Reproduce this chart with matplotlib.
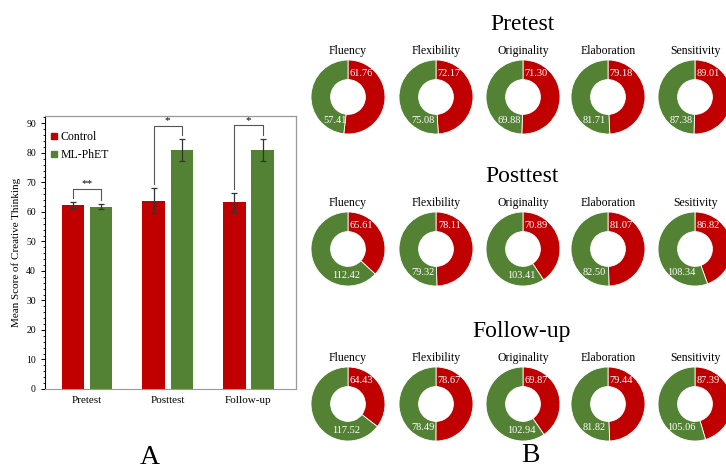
import numpy as np
import matplotlib.pyplot as plt
from matplotlib.lines import Line2D
from matplotlib.ticker import MultipleLocator

plt.rcParams['font.family'] = ['Liberation Serif', 'DejaVu Serif']

# Panel A data
phases = ['Pretest', 'Posttest', 'Follow-up']
control_mean = [62.3, 63.8, 63.3]
control_err = [1.0, 4.3, 3.2]
phet_mean = [61.8, 81.0, 81.0]
phet_err = [0.8, 3.6, 3.7]
stars = ['**', '*', '*']

# Panel B data (red = first value, green = second value)
skills = ['Fluency', 'Flexibility', 'Originality', 'Elaboration', 'Sensitivity']
skills_post = ['Fluency', 'Flexibility', 'Originality', 'Elaboration', 'Sesitivity']
pre_red = [61.76, 72.17, 71.30, 79.18, 89.01]
pre_green = [57.41, 75.08, 69.88, 81.71, 87.38]
post_red = [65.61, 78.11, 70.89, 81.07, 86.82]
post_green = [112.42, 79.32, 103.41, 82.50, 108.34]
fol_red = [64.43, 78.67, 69.87, 79.44, 87.39]
fol_green = [117.52, 78.49, 102.94, 81.82, 105.06]

RED = '#C00000'
GREEN = '#548235'

W, H = 726, 471
fig = plt.figure(figsize=(W / 100, H / 100), dpi=100)


def fx(px):
    return px / W


def fy(py):
    return 1 - py / H


# ---------- Panel A: bars ----------
ax = fig.add_axes([fx(45), fy(389), fx(296 - 45), (389 - 116) / H])
x = np.arange(len(phases))
bw = 0.28
off = 0.175
ekw = dict(ecolor='#333333', elinewidth=0.9, capsize=2.5, capthick=0.9)
ax.bar(x - off, control_mean, bw, color=RED, yerr=control_err, error_kw=ekw)
ax.bar(x + off, phet_mean, bw, color=GREEN, yerr=phet_err, error_kw=ekw)

# significance brackets
for i in range(len(phases)):
    l_leg = control_mean[i] + control_err[i] + 1.3
    r_leg = phet_mean[i] + phet_err[i] + 1.3
    top = max(l_leg, r_leg) + 3.3
    ax.plot([i - off, i - off, i + off, i + off], [l_leg, top, top, r_leg],
            color='#555555', lw=0.8)
    ax.text(i, top + 0.2, stars[i], ha='center', va='bottom', fontsize=8)

ax.set_xlim(-0.52, 2.59)
ax.set_ylim(0, 92.5)
ax.set_xticks(x)
ax.set_xticklabels(phases, fontsize=8)
ax.yaxis.set_major_locator(MultipleLocator(10))
ax.yaxis.set_minor_locator(MultipleLocator(2))
ax.tick_params(axis='y', labelsize=7, length=3, width=0.7, direction='out')
ax.tick_params(axis='y', which='minor', length=1.8, width=0.6)
ax.tick_params(axis='x', length=0, pad=5)
for s in ['top', 'right']:
    ax.spines[s].set_color('#999999')
    ax.spines[s].set_linewidth(0.9)
ax.spines['left'].set_linewidth(0.8)
ax.spines['bottom'].set_color('#999999')
ax.set_ylabel('Mean Score of Creative Thinking', fontsize=8, labelpad=4)

handles = [Line2D([], [], marker='s', ls='', color=RED, markersize=4.5),
           Line2D([], [], marker='s', ls='', color=GREEN, markersize=4.5)]
ax.legend(handles, ['Control', 'ML-PhET'], loc='upper left', frameon=False,
          fontsize=8.5, handlelength=0.5, handletextpad=0.3, borderaxespad=0.4,
          labelspacing=0.5, bbox_to_anchor=(-0.015, 0.98))

fig.text(fx(150), fy(458), 'A', ha='center', va='center', fontsize=20)

# ---------- Panel B: donuts ----------
rows = [('Pretest', skills, pre_red, pre_green, 97, 25),
        ('Posttest', skills_post, post_red, post_green, 249, 177),
        ('Follow-up', skills, fol_red, fol_green, 404, 331)]
cx = [348, 436, 523, 608, 695]
R = 37
box = 80

for title, names, reds, greens, cy, ty in rows:
    fig.text(fx(522), fy(ty), title, ha='center', va='center', fontsize=17)
    for j, name in enumerate(names):
        dax = fig.add_axes([fx(cx[j] - box / 2), fy(cy + box / 2), box / W, box / H])
        lim = box / 2 / R
        dax.pie([reds[j], greens[j]], colors=[RED, GREEN], startangle=90,
                counterclock=False, radius=1,
                wedgeprops=dict(width=0.53, edgecolor='white', linewidth=0.6))
        dax.set_xlim(-lim, lim)
        dax.set_ylim(-lim, lim)
        dax.set_aspect('equal')
        dax.axis('off')
        share = reds[j] / (reds[j] + greens[j])
        dax.text(0.36, 0.64, f'{reds[j]:.2f}', color='white', fontsize=7.5,
                 ha='center', va='center')
        if share >= 0.44:
            gx, gy = -0.36, -0.64
        else:
            gx, gy = -0.05, -0.72
        dax.text(gx, gy, f'{greens[j]:.2f}', color='white', fontsize=7.5,
                 ha='center', va='center')
        fig.text(fx(cx[j]), fy(cy - 46), name, ha='center', va='center',
                 fontsize=8.5)

fig.text(fx(530), fy(456), 'B', ha='center', va='center', fontsize=20)

fig.savefig('out.png', dpi=100)
plt.close(fig)
